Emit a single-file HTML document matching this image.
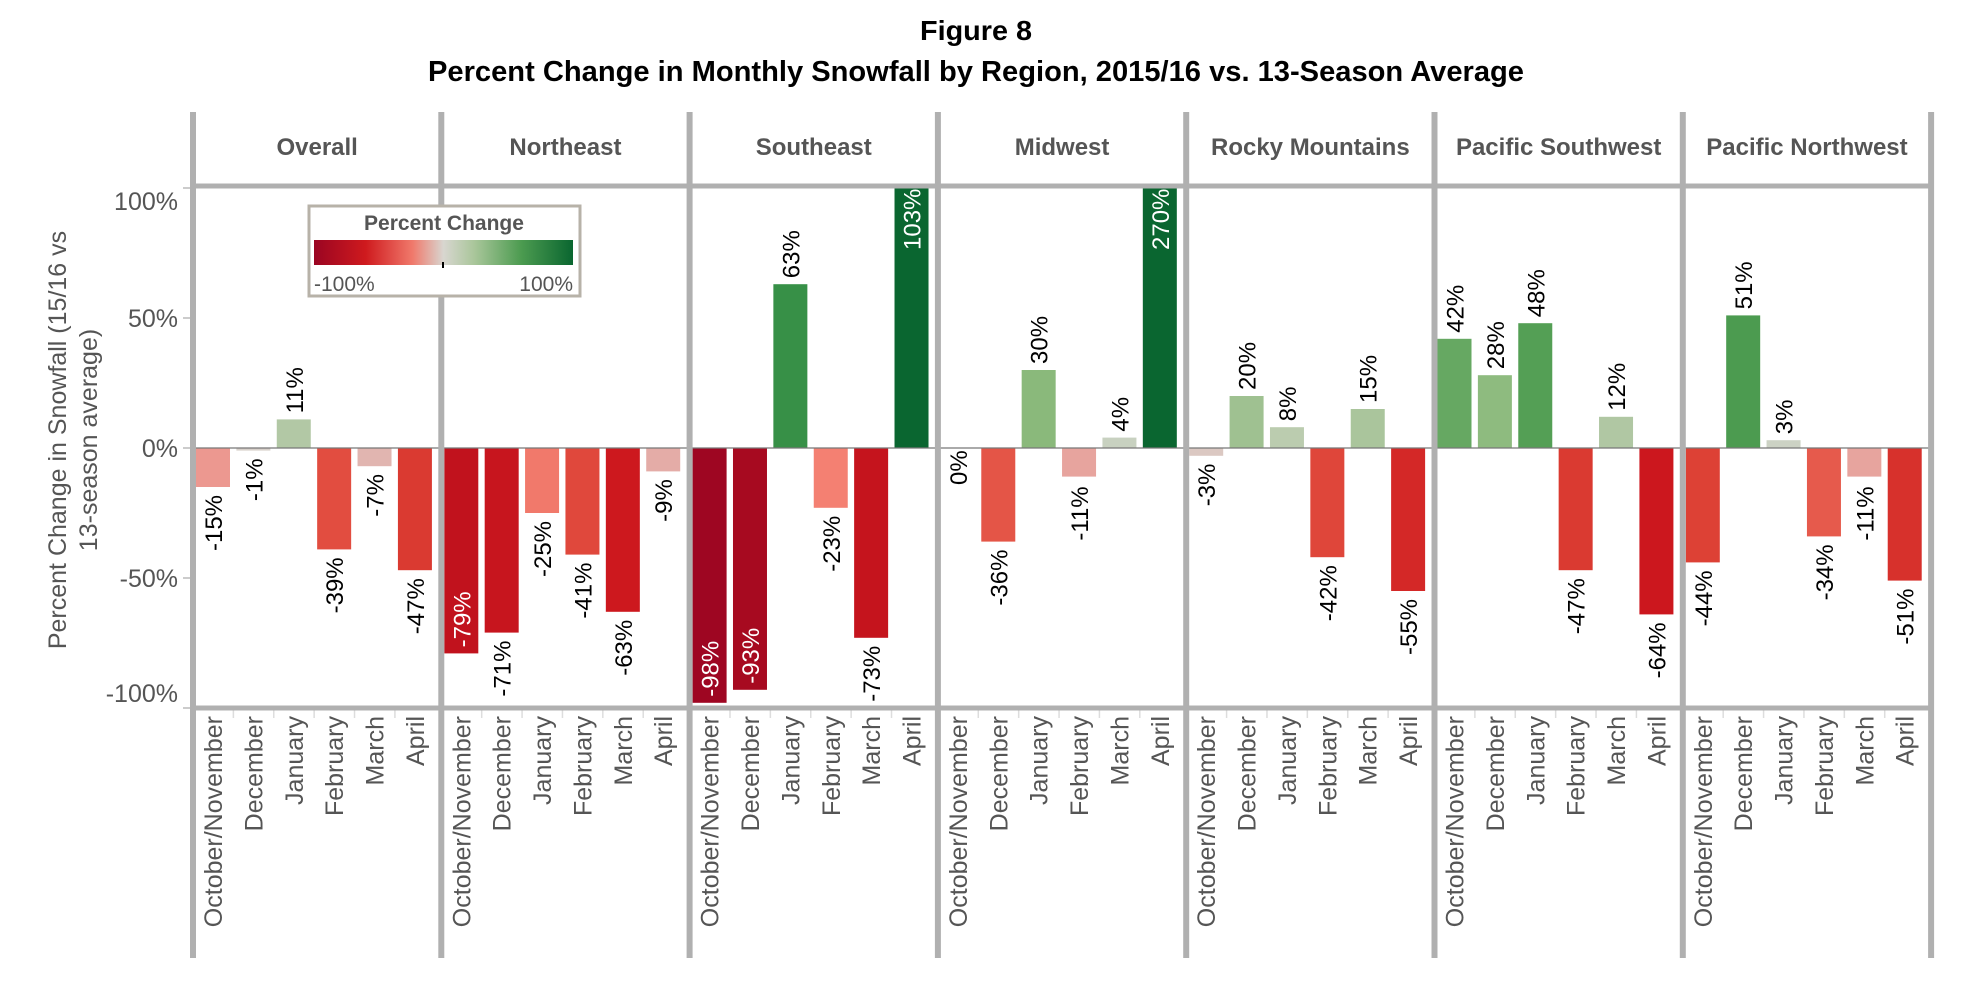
<!DOCTYPE html>
<html><head><meta charset="utf-8"><style>
html,body{margin:0;padding:0;background:#fff;}
svg{display:block;font-family:"Liberation Sans",Arial,sans-serif;}
</style></head><body>
<svg id="chart" width="1978" height="998" viewBox="0 0 1978 998">
<text x="976" y="40" text-anchor="middle" font-weight="bold" font-size="28" textLength="112" lengthAdjust="spacingAndGlyphs">Figure 8</text>
<text x="976" y="81" text-anchor="middle" font-weight="bold" font-size="29" textLength="1096" lengthAdjust="spacingAndGlyphs">Percent Change in Monthly Snowfall by Region, 2015/16 vs. 13-Season Average</text>
<g id="axis-title">
<text transform="translate(66,440) rotate(-90)" text-anchor="middle" font-size="25" fill="#555">Percent Change in Snowfall (15/16 vs</text>
<text transform="translate(97,440) rotate(-90)" text-anchor="middle" font-size="25" fill="#555">13-season average)</text>
</g>
<g id="plot"></g>
<g id="legend">
<defs><linearGradient id="grad" x1="0" x2="1" y1="0" y2="0">
<stop offset="0" stop-color="#9a0522"/><stop offset="0.2" stop-color="#cf1a1e"/><stop offset="0.38" stop-color="#f0796b"/><stop offset="0.5" stop-color="#d8d6d0"/><stop offset="0.62" stop-color="#a9c69a"/><stop offset="0.8" stop-color="#4c9b50"/><stop offset="1" stop-color="#0a6630"/></linearGradient></defs>
<rect x="309" y="206" width="271" height="90" fill="#fff" stroke="#b7b2a8" stroke-width="3"/>
<text x="444" y="230" text-anchor="middle" font-weight="bold" font-size="21" fill="#555">Percent Change</text>
<rect x="314" y="240" width="259" height="25" fill="url(#grad)"/>
<line x1="443" x2="443" y1="262" y2="268" stroke="#000" stroke-width="2"/>
<text x="314" y="291" font-size="21" fill="#555">-100%</text>
<text x="573" y="291" text-anchor="end" font-size="21" fill="#555">100%</text>
</g>
</svg>
<script>
const regions = ["Overall","Northeast","Southeast","Midwest","Rocky Mountains","Pacific Southwest","Pacific Northwest"];
const months = ["October/November","December","January","February","March","April"];
const overallVals = [-15,-1,11,-39,-7,-47];
const northeastVals = [-79,-71,-25,-41,-63,-9];
const southeastVals = [-98,-93,63,-23,-73,103];
const midwestVals = [0,-36,30,-11,4,270];
const rockyVals = [-3,20,8,-42,15,-55];
const pacSWVals = [42,28,48,-47,12,-64];
const pacNWVals = [-44,51,3,-34,-11,-51];
const yTicks = [100,50,0,-50,-100];
const allVals = [overallVals,northeastVals,southeastVals,midwestVals,rockyVals,pacSWVals,pacNWVals];

const NS="http://www.w3.org/2000/svg";
const plot=document.getElementById('plot');
const X0=193, PW=248.3, TOP=186, BOT=708, ZERO=448, SCALE=2.6;
const y=v=>ZERO - v*SCALE;
const panelX=i=>X0+i*PW;
const slotW=PW/6;
const slotX=(p,m)=>panelX(p)+3+m*slotW*(PW-6)/PW;
function mk(tag,attrs,parent){const e=document.createElementNS(NS,tag);for(const k in attrs)e.setAttribute(k,attrs[k]);(parent||plot).appendChild(e);return e;}
const stops=[[-100,[154,5,34]],[-80,[192,18,29]],[-62,[206,24,30]],[-45,[220,62,51]],[-32,[232,95,80]],[-22,[245,132,118]],[-10,[230,167,162]],[0,[214,214,208]],[10,[180,201,167]],[30,[138,185,123]],[50,[78,156,81]],[70,[42,138,66]],[100,[10,102,48]]];
function color(v){v=Math.max(-100,Math.min(100,v));for(let i=0;i<stops.length-1;i++){const a=stops[i],b=stops[i+1];if(v<=b[0]){const t=(v-a[0])/(b[0]-a[0]);return 'rgb('+a[1].map((c,j)=>Math.round(c+(b[1][j]-c)*t)).join(',')+')';}}return 'rgb(10,102,48)';}

// y ticks
yTicks.forEach(t=>{
  const ty=y(t);
  const l=mk('line',{x1:183,x2:193,y1:ty,y2:ty,stroke:'#bbb','stroke-width':1.5});
  
  
  let ly=ty+9; if(t===100) ly=ty+22; if(t===-100) ly=ty-6;
  const tx=mk('text',{x:178,y:ly,'text-anchor':'end','font-size':25,fill:'#555'});
  tx.textContent=t+'%';
  
  
});

regions.forEach((r,p)=>{
  const px=panelX(p);
  const h=mk('text',{x:px+PW/2,y:155,'text-anchor':'middle','font-size':24,'font-weight':'bold',fill:'#555'});
  h.textContent=r;
  
  
  const vals=allVals[p];
  months.forEach((m,i)=>{
    const v=vals[i];
    const bx=slotX(p,i), bw=34;
    const vv=Math.max(-100,Math.min(v,100*(ZERO-TOP)/(100*SCALE)));
    const top=Math.min(y(vv),ZERO), hgt=Math.abs(y(vv)-ZERO);
    const b=mk('rect',{x:bx,y:top,width:bw,height:Math.max(hgt,0.5),fill:color(v)});
    
    
    const cx=bx+bw/2+9;
    const label=v+'%'; const len=label.length*13.5+4;
    let ly,fill='#000';
    if(v>0){ if(y(vv)-len<TOP){ly=y(vv)+6+len;fill='#fff';} else ly=y(vv)-6; }
    else { if(y(vv)+len+6>BOT){ly=y(vv)-6;fill='#fff';} else ly=y(vv)+6+len; }
    const t=mk('text',{transform:'translate('+cx+','+ly+') rotate(-90)','font-size':24,fill:fill});
    t.textContent=label;
    
    
    const c=mk('text',{transform:'translate('+(bx+bw/2+9)+',716) rotate(-90)','text-anchor':'end','font-size':25,fill:'#555'});
    c.textContent=m;
    
    
    if(i>0){const tk=mk('line',{x1:bx-3,x2:bx-3,y1:710,y2:718,stroke:'#ddd','stroke-width':1.5});
      
      }
  });
  const zl=mk('line',{x1:px,x2:px+PW,y1:ZERO,y2:ZERO,stroke:'#777','stroke-width':1.2});
  
  
});
// frame lines
const ht=mk('line',{x1:X0,x2:panelX(7),y1:TOP,y2:TOP,stroke:'#b0b0b0','stroke-width':5});


const hb=mk('line',{x1:X0,x2:panelX(7),y1:BOT,y2:BOT,stroke:'#b0b0b0','stroke-width':5});


for(let i=0;i<=7;i++){
  const v=mk('line',{x1:panelX(i),x2:panelX(i),y1:112,y2:958,stroke:'#b0b0b0','stroke-width':6});
  
  
}
plot.parentNode.appendChild(document.getElementById('legend'));
</script>
</body></html>
